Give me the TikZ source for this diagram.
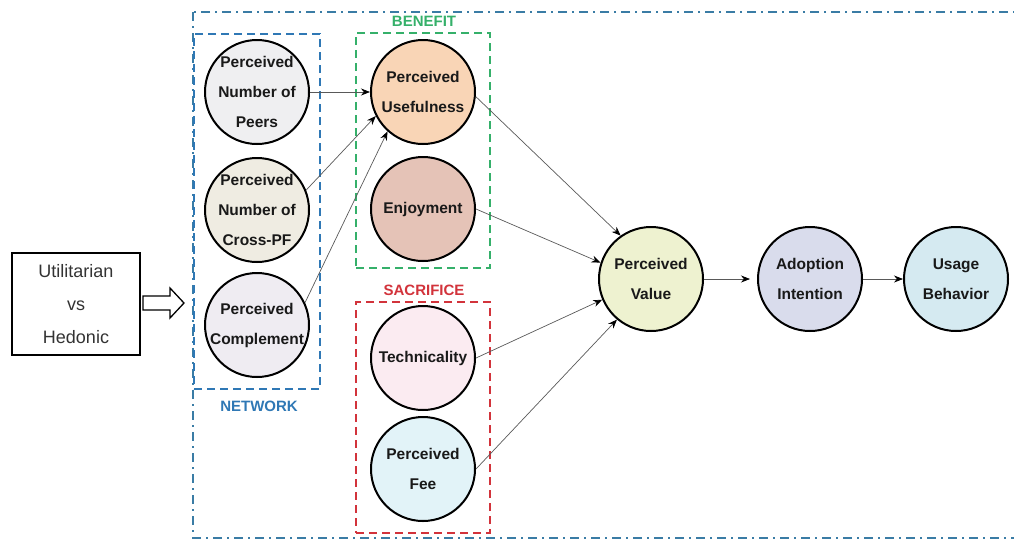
\documentclass[tikz,border=0pt]{standalone}
\usepackage{fontspec}
\setmainfont{Liberation Sans}
\usepackage{tikz}
\usetikzlibrary{arrows.meta,positioning,calc,fit}

\definecolor{framecol}{HTML}{3A7CA5}
\definecolor{netcol}{HTML}{2F78B5}
\definecolor{bencol}{HTML}{35B06A}
\definecolor{saccol}{HTML}{D2333B}
\definecolor{peersfill}{HTML}{EFEFF1}
\definecolor{crossfill}{HTML}{EFECE2}
\definecolor{compfill}{HTML}{EFECF2}
\definecolor{usefill}{HTML}{F9D5B6}
\definecolor{enjfill}{HTML}{E5C3B7}
\definecolor{techfill}{HTML}{FBEBF1}
\definecolor{feefill}{HTML}{E2F3F8}
\definecolor{valfill}{HTML}{EEF2D0}
\definecolor{adopfill}{HTML}{D9DCEC}
\definecolor{usagefill}{HTML}{D5EAF1}

\begin{document}
\begin{tikzpicture}[x=1pt,y=-1pt,>=Stealth]
  \tikzstyle{construct}=[draw,circle,line width=2pt,minimum size=104pt,inner sep=-2pt,align=center,font=\fontsize{15.5}{30}\selectfont\bfseries,text=black!90]
  \tikzstyle{link}=[draw=black!65,line width=0.7pt,-{Stealth[black,length=9pt,width=7pt]}]
  \tikzstyle{groupbox}=[draw,line width=1.8pt,dash pattern=on 8pt off 5pt]
  \tikzstyle{grouplabel}=[font=\fontsize{15}{17}\selectfont\bfseries]

  \useasboundingbox (0,0) rectangle (1014,542);
  \draw[framecol,line width=1.8pt,dash pattern=on 9pt off 5pt on 2pt off 5pt] (193,12) rectangle (1030,538);

  \node[draw,line width=1.3pt,minimum width=128pt,minimum height=102pt,align=center,text=black!80,font=\fontsize{18}{33}\selectfont] (motive) at (76,304) {Utilitarian\\vs\\Hedonic};
  \draw[line width=1.3pt] (143,296) -- (170,296) -- (170,288) -- (184,303) -- (170,318) -- (170,310) -- (143,310) -- cycle;

  \node[construct,fill=peersfill] (peers) at (257,92) {Perceived\\Number of\\Peers};
  \node[construct,fill=crossfill] (cross) at (257,210) {Perceived\\Number of\\Cross-PF};
  \node[construct,fill=compfill] (comp) at (257,325) {Perceived\\Complement};

  \node[construct,fill=usefill] (useful) at (423,92) {Perceived\\Usefulness};
  \node[construct,fill=enjfill] (enjoy) at (423,209) {Enjoyment};
  \node[construct,fill=techfill] (tech) at (423,358) {Technicality};
  \node[construct,fill=feefill] (fee) at (423,469) {Perceived\\Fee};

  \node[construct,fill=valfill] (value) at (651,279) {Perceived\\Value};
  \node[construct,fill=adopfill] (adopt) at (810,279) {Adoption\\Intention};
  \node[construct,fill=usagefill] (usage) at (956,279) {Usage\\Behavior};

  \node[groupbox,netcol,fit=(peers)(comp),inner xsep=10pt,inner ysep=8pt,yshift=-3pt] (netbox) {};
  \node[groupbox,bencol,fit=(useful)(enjoy),inner xsep=14pt,inner ysep=6pt] (benbox) {};
  \node[groupbox,saccol,fit=(tech)(fee),inner xsep=14pt,inner ysep=7pt,yshift=-4pt] (sacbox) {};

  \node[grouplabel,netcol] (netlabel) at (259,406) {NETWORK};
  \node[grouplabel,bencol] (benlabel) at (424,21) {BENEFIT};
  \node[grouplabel,saccol] (saclabel) at (424,290) {SACRIFICE};

  \draw[link] (peers.east) -- (useful.west);
  \draw[link] (cross.22) -- (useful.207);
  \draw[link] (comp.25) -- (useful.228);

  \draw[link] (useful.-5) -- (value.125);
  \draw[link] (enjoy.east) -- (value.162);
  \draw[link] (tech.east) -- (value.203);
  \draw[link] (fee.east) -- (value.230);

  \draw[link,shorten >=7pt] (value.east) -- (adopt.west);
  \draw[link] (adopt.east) -- (usage.west);
\end{tikzpicture}
\end{document}
